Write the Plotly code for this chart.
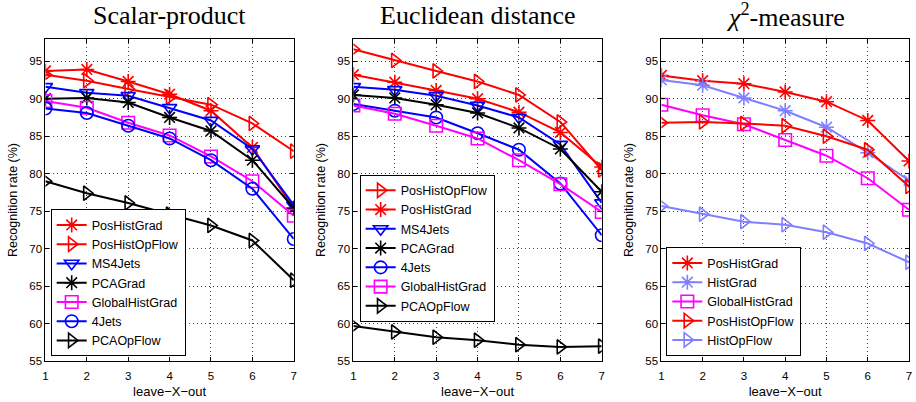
import plotly.graph_objects as go

X = [1, 2, 3, 4, 5, 6, 7]
X_TICKS = [1, 2, 3, 4, 5, 6, 7]
Y_TICKS = [55, 60, 65, 70, 75, 80, 85, 90, 95]

# Panel 1: Scalar-product
sp_PosHistGrad = [93.7, 93.9, 92.3, 90.6, 88.4, 83.5, 75.4]
sp_PosHistOpFlow = [93.2, 92.4, 91.3, 90.2, 89.2, 86.7, 83.0]
sp_MS4Jets = [91.6, 90.8, 90.4, 88.8, 87.1, 83.3, 75.8]
sp_PCAGrad = [90.0, 90.1, 89.5, 87.5, 85.7, 81.8, 75.4]
sp_GlobalHistGrad = [89.7, 88.8, 86.8, 85.1, 82.3, 79.0, 74.4]
sp_4Jets = [88.7, 88.1, 86.4, 84.7, 81.8, 78.0, 71.3]
sp_PCAOpFlow = [79.0, 77.4, 76.1, 74.6, 73.1, 71.1, 65.8]

# Panel 2: Euclidean distance
eu_PosHistOpFlow = [96.6, 95.1, 93.7, 92.3, 90.5, 86.9, 80.5]
eu_PosHistGrad = [93.2, 92.2, 91.1, 90.0, 88.2, 85.5, 80.9]
eu_MS4Jets = [91.6, 91.2, 90.4, 89.1, 87.5, 83.9, 76.1]
eu_PCAGrad = [90.5, 90.1, 89.2, 88.1, 86.1, 83.3, 77.6]
eu_4Jets = [89.3, 88.4, 87.5, 85.4, 83.2, 78.7, 71.8]
eu_GlobalHistGrad = [89.1, 88.0, 86.4, 84.7, 81.8, 78.6, 74.9]
eu_PCAOpFlow = [59.7, 58.9, 58.2, 57.8, 57.2, 56.9, 57.0]

# Panel 3: chi^2-measure
chi_PosHistGrad = [93.1, 92.4, 92.0, 90.9, 89.6, 87.1, 81.7]
chi_HistGrad = [92.5, 91.8, 90.1, 88.4, 86.2, 82.8, 79.1]
chi_GlobalHistGrad = [89.2, 87.8, 86.6, 84.5, 82.4, 79.4, 75.2]
chi_PosHistOpFlow = [86.8, 86.9, 86.7, 86.4, 85.0, 83.2, 78.3]
chi_HistOpFlow = [75.7, 74.6, 73.6, 73.2, 72.2, 70.7, 68.2]

RED = "#ff0000"
BLUE = "#0000ff"
BLACK = "#000000"
MAG = "#ff00ff"
LBLUE = "#8080ff"

panels = [
    ("Scalar-product", [
        ("PosHistGrad", sp_PosHistGrad, RED, "asterisk-open"),
        ("PosHistOpFlow", sp_PosHistOpFlow, RED, "triangle-right-open"),
        ("MS4Jets", sp_MS4Jets, BLUE, "triangle-down-open"),
        ("PCAGrad", sp_PCAGrad, BLACK, "asterisk-open"),
        ("GlobalHistGrad", sp_GlobalHistGrad, MAG, "square-open"),
        ("4Jets", sp_4Jets, BLUE, "circle-open"),
        ("PCAOpFlow", sp_PCAOpFlow, BLACK, "triangle-right-open"),
    ]),
    ("Euclidean distance", [
        ("PosHistOpFlow", eu_PosHistOpFlow, RED, "triangle-right-open"),
        ("PosHistGrad", eu_PosHistGrad, RED, "asterisk-open"),
        ("MS4Jets", eu_MS4Jets, BLUE, "triangle-down-open"),
        ("PCAGrad", eu_PCAGrad, BLACK, "asterisk-open"),
        ("4Jets", eu_4Jets, BLUE, "circle-open"),
        ("GlobalHistGrad", eu_GlobalHistGrad, MAG, "square-open"),
        ("PCAOpFlow", eu_PCAOpFlow, BLACK, "triangle-right-open"),
    ]),
    ("<i>χ</i><sup>2</sup>-measure", [
        ("PosHistGrad", chi_PosHistGrad, RED, "asterisk-open"),
        ("HistGrad", chi_HistGrad, LBLUE, "asterisk-open"),
        ("GlobalHistGrad", chi_GlobalHistGrad, MAG, "square-open"),
        ("PosHistOpFlow", chi_PosHistOpFlow, RED, "triangle-right-open"),
        ("HistOpFlow", chi_HistOpFlow, LBLUE, "triangle-right-open"),
    ]),
]

W, H = 916, 402
x_domains = [(42.7, 292.7), (352.7, 602.7), (662.7, 912.0)]
y_dom = ((H - 366.7) / H, (H - 39.3) / H)
# legend placement: (left px, y px, anchor)
legend_pos = [(48, 361.7, "bottom"), (359, 252, "middle"), (667.7, 361.7, "bottom")]

SANS = "Liberation Sans, Arial, sans-serif"
SERIF = "Liberation Serif, Times New Roman, serif"

fig = go.Figure()
layout = dict(
    width=W, height=H,
    margin=dict(l=0, r=0, t=0, b=0),
    paper_bgcolor="white", plot_bgcolor="white",
    font=dict(family=SANS, size=12, color="black"),
    annotations=[],
)

for i, (title, series) in enumerate(panels):
    k = "" if i == 0 else str(i + 1)
    xa = "x" + k
    ya = "y" + k
    lg = "legend" + k
    for name, vals, col, sym in series:
        fig.add_trace(go.Scatter(
            x=X, y=vals, name=name, mode="lines+markers",
            xaxis=xa, yaxis=ya, legend=lg,
            line=dict(color=col, width=2),
            marker=dict(symbol=sym, size=12.5, color=col, line=dict(color=col, width=1.6)),
        ))
    x0, x1 = x_domains[i]
    axis_common = dict(
        showline=True, linecolor="black", linewidth=1, mirror="ticks",
        ticks="inside", ticklen=4, tickcolor="black",
        showgrid=True, gridcolor="#444444", griddash="1px,3px", gridwidth=1,
        zeroline=False, tickfont=dict(family=SANS, size=11.5, color="black"),
    )
    layout["xaxis" + k] = dict(
        domain=[x0 / W, x1 / W], range=[1, 7], anchor=ya,
        tickmode="array", tickvals=X_TICKS, ticktext=[str(t) for t in X_TICKS],
        ticklabelstandoff=4,
        title=dict(text="leave\u2212X\u2212out", font=dict(family=SANS, size=13), standoff=5),
        **axis_common,
    )
    layout["yaxis" + k] = dict(
        domain=list(y_dom), range=[55, 98], anchor=xa,
        tickmode="array", tickvals=Y_TICKS, ticktext=[str(t) for t in Y_TICKS],
        title=dict(text="Recognition rate (%)", font=dict(family=SANS, size=12.5), standoff=8),
        **axis_common,
    )
    lx, ly, anc = legend_pos[i]
    layout[lg] = dict(
        x=lx / W, y=(H - ly) / H, xanchor="left", yanchor=anc,
        bgcolor="white", bordercolor="black", borderwidth=1,
        font=dict(family=SANS, size=12.5, color="black"),
        tracegroupgap=0, itemwidth=30,
    )
    layout["annotations"].append(dict(
        text=title, x=(x0 + x1) / 2 / W, y=(H - 16) / H,
        xref="paper", yref="paper", xanchor="center", yanchor="middle",
        showarrow=False, font=dict(family=SERIF, size=26, color="black"),
    ))

fig.update_layout(**layout)
fig.write_html(
    "out.html",
    config={"displayModeBar": False},
    post_script="document.body.style.margin='0';document.body.style.overflow='hidden';",
)
